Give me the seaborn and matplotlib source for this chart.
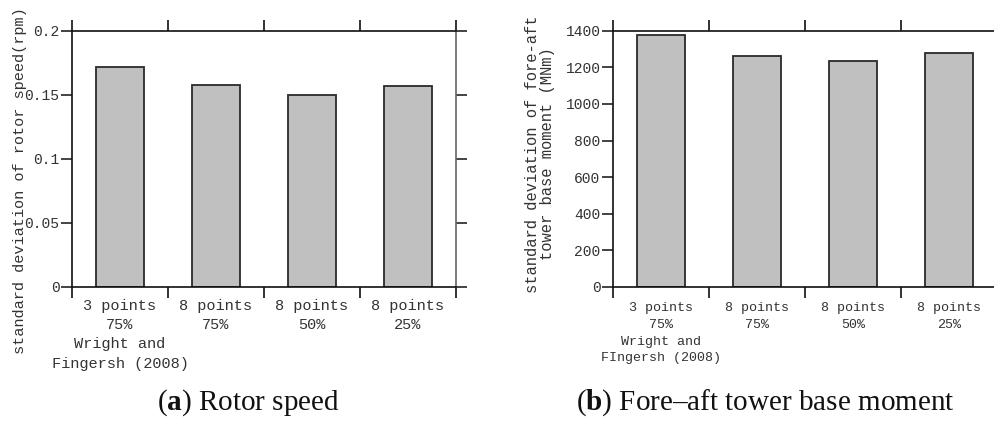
import matplotlib
matplotlib.use("Agg")
import matplotlib.pyplot as plt
import seaborn as sns
import pandas as pd
from matplotlib.ticker import FixedLocator, NullFormatter

# ---- data ----
cats_a = ["3 points\n75%\nWright and\nFingersh (2008)", "8 points\n75%", "8 points\n50%", "8 points\n25%"]
cats_b = ["3 points\n75%\nWright and\nFIngersh (2008)", "8 points\n75%", "8 points\n50%", "8 points\n25%"]
rotor_speed_std = [0.172, 0.158, 0.150, 0.157]
tower_moment_std = [1375, 1263, 1233, 1277]
yticks_a = [0, 0.05, 0.1, 0.15, 0.2]
yticklabels_a = ["0", "0.05", "0.1", "0.15", "0.2"]
yticks_b = [0, 200, 400, 600, 800, 1000, 1200, 1400]
yticklabels_b = ["0", "200", "400", "600", "800", "1000", "1200", "1400"]
ylabel_a = "standard deviation of rotor speed(rpm)"
ylabel_b = "standard deviation of fore-aft\ntower base moment (MNm)"
caption_a = r"($\mathbf{a}$) Rotor speed"
caption_b = r"($\mathbf{b}$) Fore–aft tower base moment"

sns.set_style("white")
plt.rcParams["font.family"] = ["Liberation Mono", "DejaVu Sans Mono"]
plt.rcParams["mathtext.fontset"] = "custom"
plt.rcParams["mathtext.rm"] = "Liberation Serif"
plt.rcParams["mathtext.bf"] = "Liberation Serif:bold"

fig = plt.figure(figsize=(9.95, 4.21), dpi=100)
W, H = 995, 421

def make_axes(left_px):
    return fig.add_axes([left_px / W, (H - 287) / H, 384 / W, 256.3 / H])

ax_a = make_axes(72)
ax_b = make_axes(613)

def style(ax, cats, vals, yticks, ylabels, ymax, xfs, ls, xpad):
    df = pd.DataFrame({"cat": cats, "val": vals})
    sns.barplot(data=df, x="cat", y="val", ax=ax, color="#c0c0c0", saturation=1,
                edgecolor="#2a2a2a", linewidth=1.3, width=0.51)
    ax.set_xlim(-0.5, 3.5)
    ax.set_ylim(0, ymax)
    ax.set_xlabel("")
    ax.set_ylabel("")
    ax.yaxis.set_major_locator(FixedLocator(yticks))
    ax.set_yticklabels(ylabels, fontsize=10.5, color="#333333")
    ax.xaxis.set_major_locator(FixedLocator([0, 1, 2, 3]))
    ax.set_xticklabels(cats, fontsize=xfs, color="#333333", linespacing=ls)
    ax.xaxis.set_minor_locator(FixedLocator([-0.5, 0.5, 1.5, 2.5, 3.5]))
    ax.xaxis.set_minor_formatter(NullFormatter())
    ax.tick_params(axis="x", which="major", length=0, pad=xpad)
    ax.tick_params(axis="x", which="minor", length=8, width=1.2, direction="out",
                   top=True, bottom=True, color="#111111")
    ax.tick_params(axis="y", which="major", length=8, width=1.2, direction="out",
                   left=True, right=True, color="#222222", pad=1)
    for s in ax.spines.values():
        s.set_visible(True)
        s.set_color("#111111")
        s.set_linewidth(1.2)
    ax.spines["right"].set_color("#666666")
    ax.set_facecolor("white")

style(ax_a, cats_a, rotor_speed_std, yticks_a, yticklabels_a, 0.2, 11, 1.48, 8.5)
style(ax_b, cats_b, tower_moment_std, yticks_b, yticklabels_b, 1400, 9.6, 1.52, 11)

ax_a.text(-0.135, 0.414, ylabel_a, transform=ax_a.transAxes, rotation=90,
          ha="center", va="center", fontsize=11, color="#333333")
ax_b.text(-0.19, 0.519, ylabel_b, transform=ax_b.transAxes, rotation=90,
          ha="center", va="center", fontsize=11.2, color="#333333",
          linespacing=0.95, multialignment="center")

fig.text(248 / W, 1 - 403 / H, caption_a, ha="center", va="center",
         fontsize=21, family="Liberation Serif", color="#111111")
fig.text(765 / W, 1 - 403 / H, caption_b, ha="center", va="center",
         fontsize=21, family="Liberation Serif", color="#111111")

fig.savefig("out.png", dpi=100, facecolor="white")
